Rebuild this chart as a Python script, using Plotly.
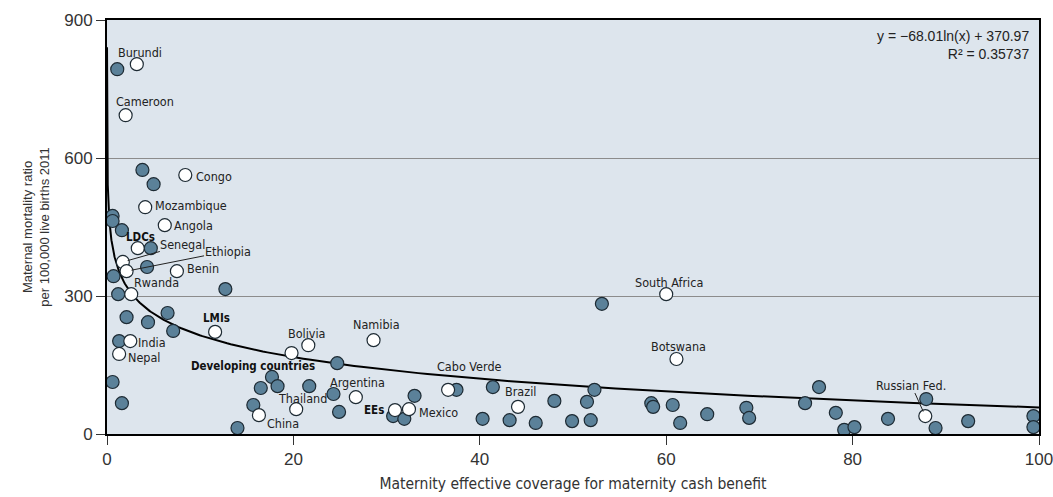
import numpy as np
import plotly.graph_objects as go

# labelled countries / groups (white markers)
label_names = ["Burundi", "Cameroon", "Congo", "Mozambique", "Angola", "LDCs",
               "Senegal", "Ethiopia", "Benin", "Rwanda", "LMIs", "India", "Nepal",
               "Bolivia", "Developing countries", "Thailand", "China", "Argentina",
               "Namibia", "EEs", "Mexico", "Cabo Verde", "Brazil", "South Africa",
               "Botswana", "Russian Fed."]
label_cov = [3.2, 2.0, 8.4, 4.1, 6.2, 3.3,
             1.7, 2.1, 7.5, 2.6, 11.6, 2.5, 1.3,
             21.6, 19.8, 20.3, 16.3, 26.7,
             28.6, 30.9, 32.4, 36.6, 44.1, 60.0,
             61.1, 87.8]
label_mmr = [804, 693, 563, 493, 454, 404,
             374, 354, 354, 304, 222, 202, 174,
             193, 176, 54, 41, 80,
             204, 52, 54, 96, 59, 304,
             163, 39]
bold_labels = ["LDCs", "LMIs", "Developing countries", "EEs"]

# other countries (blue markers)
other_cov = [1.1, 3.8, 5.0, 0.6, 0.6, 1.6, 4.7, 4.3, 0.7, 12.7, 1.2, 6.5, 2.1,
             4.4, 7.1, 1.3, 0.6, 1.6, 14.0, 24.7, 17.7, 18.3, 16.5, 21.7, 15.7,
             24.3, 24.9, 33.0, 30.7, 31.9, 37.5, 41.4, 40.3, 43.2, 46.0, 48.0,
             49.9, 51.9, 51.5, 52.3, 53.1, 58.4, 58.6, 60.7, 61.5, 64.4, 68.6,
             68.9, 74.9, 76.4, 78.2, 79.1, 80.2, 83.8, 87.9, 88.9, 92.4, 99.4, 99.4]
other_mmr = [793, 574, 543, 474, 463, 443, 404, 363, 343, 315, 304, 263, 254,
             243, 224, 202, 113, 67, 13, 154, 124, 104, 100, 104, 63,
             87, 48, 83, 39, 33, 96, 102, 33, 30, 24, 72,
             28, 30, 70, 96, 283, 67, 59, 63, 24, 43, 57,
             35, 67, 102, 46, 9, 15, 33, 76, 13, 28, 39, 15]

# logarithmic trend printed on the chart
trend_a = -68.01
trend_b = 370.97
trend_r2 = 0.35737

# label placement (pixel offsets from the marker): anchor, xshift, yshift
label_pos = {
    "Burundi": ("left", -21, 12), "Cameroon": ("left", -12, 14),
    "Congo": ("left", 9, -1), "Mozambique": ("left", 8, 2),
    "Angola": ("left", 7, 0), "LDCs": ("center", 3, 11),
    "Benin": ("left", 8, 3), "Rwanda": ("left", 1, 12),
    "LMIs": ("center", 1, 14), "India": ("left", 6, -1),
    "Nepal": ("left", 7, -4), "Bolivia": ("center", -1, 12),
    "Developing countries": ("right", 25, -13), "Thailand": ("center", 6, 11),
    "China": ("left", 6, -8), "Argentina": ("center", 2, 15),
    "Namibia": ("center", 3, 16), "EEs": ("right", -9, 0),
    "Mexico": ("left", 8, -3), "Cabo Verde": ("center", 21, 23),
    "Brazil": ("center", 2, 15), "South Africa": ("center", 3, 12),
    "Botswana": ("center", 2, 13),
}
# labels joined to their marker by a leader line: ax, ay in pixels
leader_pos = {"Senegal": (60, -17), "Ethiopia": (101, -20), "Russian Fed.": (-14, -31)}

LABEL_FONT = "'Liberation Sans Narrow', 'Arial Narrow', 'DejaVu Sans Condensed', Roboto, sans-serif"
AXIS_FONT = "'Liberation Sans', Arial, sans-serif"
BLUE = "#5b8199"
EDGE = "#1d2a33"

fig = go.Figure()

xs = np.logspace(-3, 2, 400)
fig.add_trace(go.Scatter(x=xs, y=trend_a * np.log(xs) + trend_b, mode="lines",
                         line=dict(color="black", width=2), hoverinfo="skip"))

fig.add_trace(go.Scatter(x=other_cov, y=other_mmr, mode="markers",
                         marker=dict(size=13, color=BLUE, line=dict(color=EDGE, width=1.2))))
fig.add_trace(go.Scatter(x=label_cov, y=label_mmr, mode="markers",
                         marker=dict(size=13, color="white", line=dict(color=EDGE, width=1.2))))

for name, cx, cy in zip(label_names, label_cov, label_mmr):
    if name in bold_labels:
        txt = f"<b>{name}</b>"
        font = dict(family=LABEL_FONT, size=11.5, color="#111")
    else:
        txt = name
        font = dict(family=LABEL_FONT, size=12.5, color="#222")
    if name in leader_pos:
        ax, ay = leader_pos[name]
        fig.add_annotation(x=cx, y=cy, text=txt, showarrow=True, arrowhead=0,
                           arrowwidth=1, arrowcolor="#222", ax=ax, ay=ay,
                           standoff=5, font=font, borderpad=0)
    else:
        anchor, dx, dy = label_pos[name]
        fig.add_annotation(x=cx, y=cy, text=txt, showarrow=False,
                           xanchor=anchor, yanchor="middle",
                           xshift=dx, yshift=dy, font=font)

fig.add_annotation(xref="paper", yref="paper", x=1, y=1, xanchor="right", yanchor="top",
                   xshift=-8, yshift=-6, align="right", showarrow=False,
                   text=f"y = \u2212{abs(trend_a):.2f}ln(x) + {trend_b:.2f}<br>R\u00b2 = {trend_r2}",
                   font=dict(family=AXIS_FONT, size=14, color="#222"))

fig.update_layout(
    width=1053, height=497,
    margin=dict(l=107, r=14, t=20, b=63),
    paper_bgcolor="white",
    plot_bgcolor="#dde5ed",
    showlegend=False,
    font=dict(family=AXIS_FONT, color="#333"),
)
fig.update_xaxes(range=[0, 100], tickvals=[0, 20, 40, 60, 80, 100],
                 ticks="outside", ticklen=9, tickcolor="#333", tickwidth=1,
                 showgrid=False, zeroline=False, automargin=False,
                 ticklabeloverflow="allow",
                 showline=True, linecolor="black", linewidth=2, mirror=True,
                 tickfont=dict(family=AXIS_FONT, size=17, color="#333"),
                 title=dict(text="Maternity effective coverage for maternity cash benefit",
                            font=dict(family=LABEL_FONT, size=15.5, color="#333"), standoff=10))
fig.update_yaxes(range=[0, 900], tickvals=[0, 300, 600, 900],
                 ticks="outside", ticklen=9, tickcolor="#333", tickwidth=1,
                 showgrid=True, gridcolor="#8c8c8c", gridwidth=1, zeroline=False,
                 automargin=False,
                 showline=True, linecolor="black", linewidth=2, mirror=True,
                 tickfont=dict(family=AXIS_FONT, size=17, color="#333"),
                 title=dict(text="Maternal mortality ratio<br>per 100,000 live births 2011",
                            font=dict(family=AXIS_FONT, size=13, color="#333"), standoff=12))

# the default page adds an 8px body margin; remove it so the chart sits at 0,0
fig.write_html("out.html", config={"displayModeBar": False},
               post_script="document.body.style.margin='0';")
